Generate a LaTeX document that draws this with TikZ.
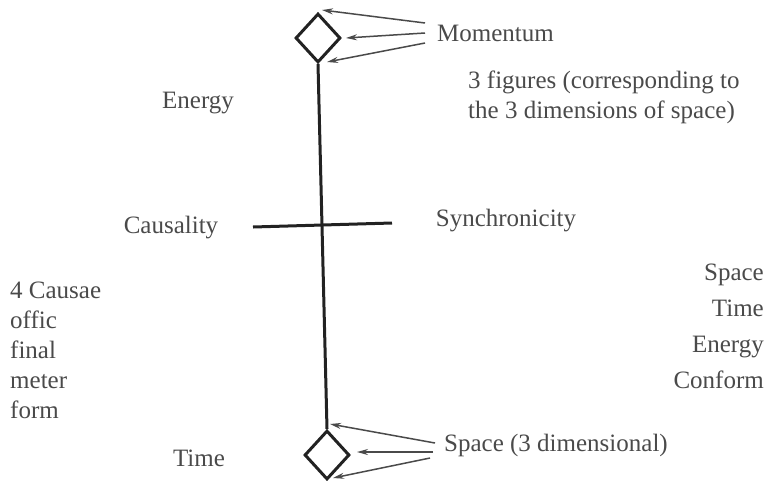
\documentclass[tikz,border=0pt]{standalone}
\usepackage{fontspec}
\setmainfont{Liberation Serif}
\usetikzlibrary{shapes.geometric,arrows.meta}
\definecolor{txt}{HTML}{4A4A4A}
\definecolor{ink}{HTML}{222222}
\begin{document}
\begin{tikzpicture}[x=1pt,y=-1pt,
  lbl/.style={text=txt,font=\fontsize{25}{30}\selectfont,inner sep=0pt},
  dia/.style={draw=ink,line width=3pt,shape=diamond,minimum width=45pt,minimum height=49pt,inner sep=0pt},
  bar/.style={draw=ink,line width=3pt},
  arr/.style={draw=txt,line width=1.5pt,-{Stealth[length=11pt,width=6pt]}}]
\useasboundingbox (0,0) rectangle (767,480);
\node[dia] (dtop) at (318,38) {};
\node[dia] (dbot) at (327,455) {};
\draw[bar] (dtop.south) -- (dbot.north);
\coordinate (hl) at (253,227);
\coordinate (hr) at (392,223);
\draw[bar] (hl) -- (hr);
% labels
\node[lbl,anchor=west] (mom) at (437,33) {Momentum};
\node[lbl] (energy) at (198,103) {Energy};
\node[lbl,anchor=west,align=left] (fig) at (468,97) {3 figures (corresponding to\\the 3 dimensions of space)};
\node[lbl] (caus) at (171,228) {Causality};
\node[lbl] (sync) at (506,221) {Synchronicity};
\node[lbl,anchor=north west,align=left,font=\fontsize{25}{30}\selectfont] (left) at (10,282) {4 Causae\\offic\\final\\meter\\form};
\node[lbl,anchor=north east,align=right,font=\fontsize{25}{36}\selectfont] (right) at (764,264) {Space\\Time\\Energy\\Conform};
\node[lbl] (time) at (199,458) {Time};
\node[lbl,anchor=west] (space) at (444,445) {Space (3 dimensional)};
% arrows top
\coordinate (a1) at (425,23); \coordinate (b1) at (322,10);
\coordinate (a2) at (425,33); \coordinate (b2) at (346,38);
\coordinate (a3) at (425,43); \coordinate (b3) at (327,62);
\draw[arr] (a1) -- (b1);
\draw[arr] (a2) -- (b2);
\draw[arr] (a3) -- (b3);
% arrows bottom
\coordinate (c1) at (435,443); \coordinate (d1) at (330,424);
\coordinate (c2) at (433,452); \coordinate (d2) at (357,452);
\coordinate (c3) at (430,458); \coordinate (d3) at (333,478);
\draw[arr] (c1) -- (d1);
\draw[arr] (c2) -- (d2);
\draw[arr] (c3) -- (d3);
\end{tikzpicture}
\end{document}
